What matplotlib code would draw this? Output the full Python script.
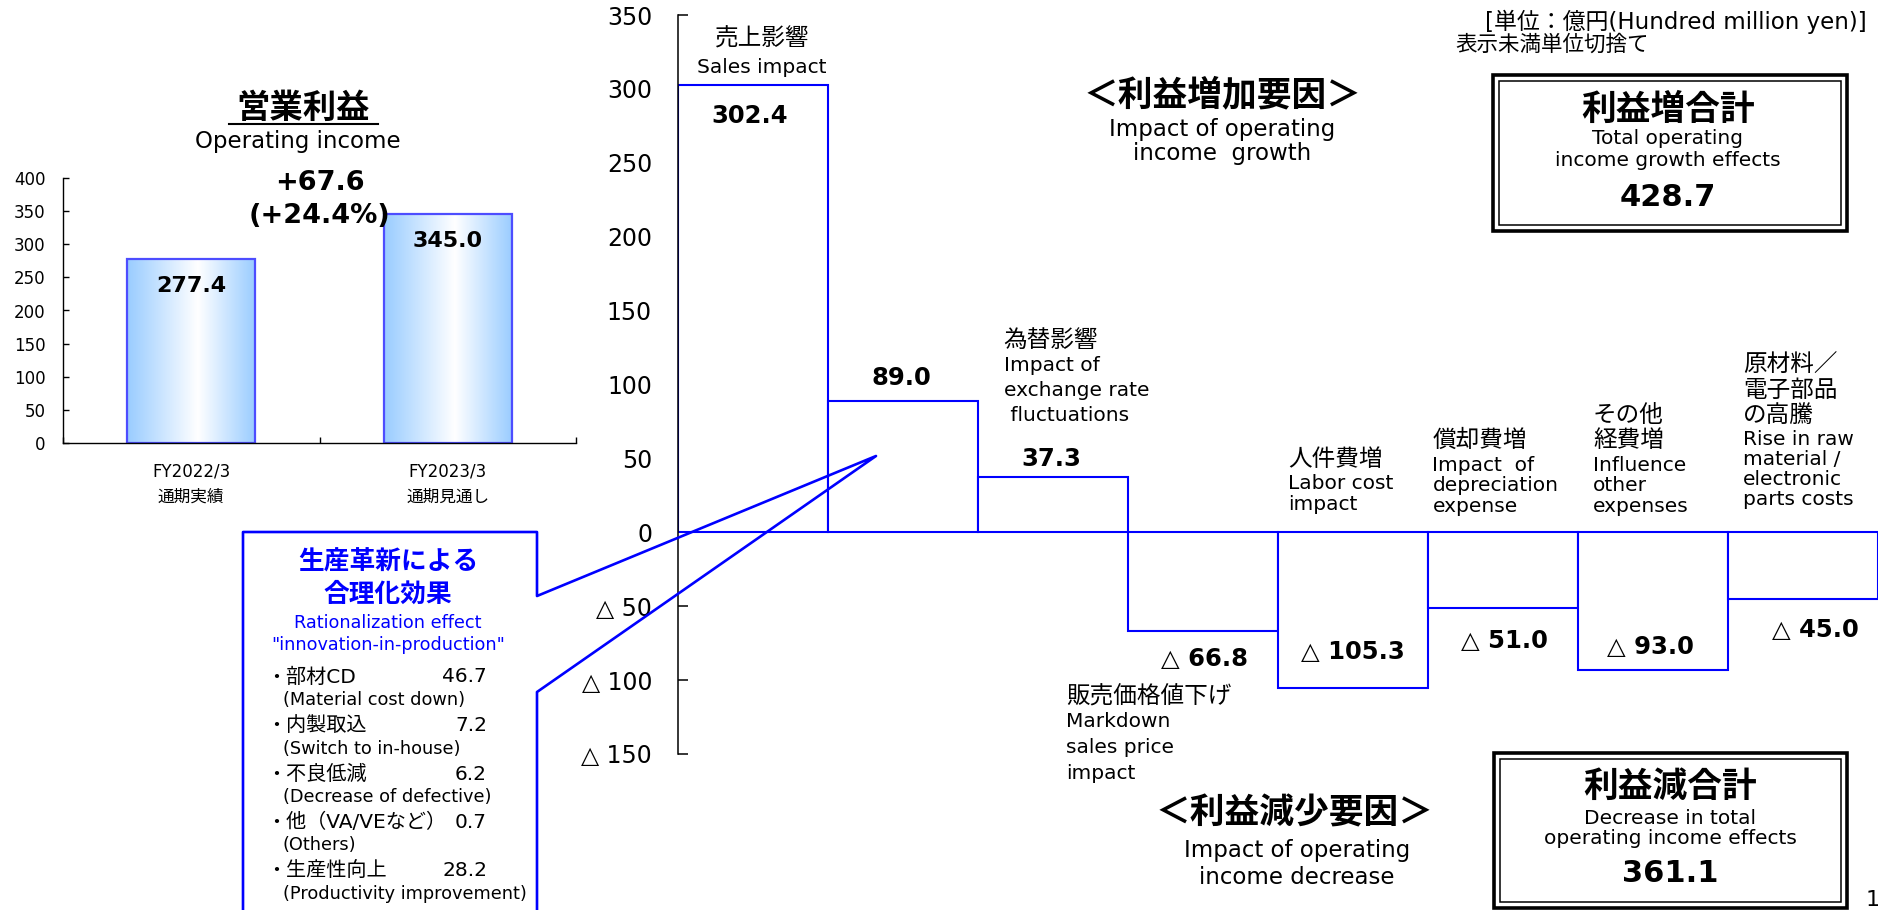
import matplotlib
matplotlib.use('Agg')
import matplotlib.pyplot as plt
import matplotlib.patches as mpatches
from matplotlib.lines import Line2D
from matplotlib.colors import LinearSegmentedColormap
import numpy as np

plt.rcParams['font.family'] = ['DejaVu Sans', 'Noto Sans CJK JP']

# ---- data ----
years = ['FY2022/3\n通期実績', 'FY2023/3\n通期見通し']
op_income = [277.4, 345.0]
growth_text = ['+67.6', '(+24.4%)']

impacts = [302.4, 89.0, 37.3, -66.8, -105.3, -51.0, -93.0, -45.0]
factor_jp = [['売上影響'], [], ['為替影響'], ['販売価格値下げ'], ['人件費増'],
             ['償却費増'], ['その他', '経費増'], ['原材料／', '電子部品', 'の高騰']]
factor_en = [['Sales impact'], [], ['Impact of', 'exchange rate', ' fluctuations'],
             ['Markdown', 'sales price', 'impact'], ['Labor cost', 'impact'],
             ['Impact  of', 'depreciation', 'expense'], ['Influence', 'other', 'expenses'],
             ['Rise in raw', 'material /', 'electronic', 'parts costs']]

ration_items = ['・部材CD', '・内製取込', '・不良低減', '・他（VA/VEなど）', '・生産性向上']
ration_en = ['(Material cost down)', '(Switch to in-house)', '(Decrease of defective)',
             '(Others)', '(Productivity improvement)']
ration_vals = [46.7, 7.2, 6.2, 0.7, 28.2]

W, H = 1878, 910
fig = plt.figure(figsize=(W / 100, H / 100), dpi=100)
fig.patch.set_facecolor('white')

def fx(px):
    return px / W

def fy(py):
    return 1 - py / H

def ftext(px, py, s, **kw):
    kw.setdefault('ha', 'center')
    kw.setdefault('va', 'center')
    return fig.text(fx(px), fy(py), s, **kw)

BLUE = '#0000FF'

# ---- left chart: operating income ----
ax1 = fig.add_axes([fx(63), fy(443.3), 513 / W, 265.6 / H])
xc = [0.5, 1.5]
fade = LinearSegmentedColormap.from_list('fade', [(0, '#99CCFF'), (0.55, '#FFFFFF'), (1, '#99CCFF')])
grad = np.linspace(0, 1, 256).reshape(1, -1)
for x, v in zip(xc, op_income):
    ax1.imshow(grad, extent=[x - 0.25, x + 0.25, 0, v], aspect='auto', cmap=fade, zorder=1)
    ax1.bar(x, v, width=0.5, facecolor='none', edgecolor='#4D4DFF', linewidth=1.6, zorder=2)
    ax1.text(x, v - 41, f'{v:.1f}', ha='center', va='center', fontsize=16, fontweight='bold', zorder=3)
ax1.set_xlim(0, 2)
ax1.set_ylim(0, 400)
ax1.set_yticks(np.arange(0, 401, 50))
ax1.set_xticks([0, 1, 2])
ax1.set_xticklabels([])
ax1.set_xticks(xc, years, minor=True)
ax1.tick_params(axis='x', which='major', direction='in', length=4, width=1)
ax1.tick_params(axis='x', which='minor', length=0, pad=14, labelsize=12)
ax1.tick_params(axis='y', direction='in', length=4, width=1, pad=12.5, labelsize=12)
for sp in ['top', 'right']:
    ax1.spines[sp].set_visible(False)
for sp in ['left', 'bottom']:
    ax1.spines[sp].set_linewidth(1.0)
for lab in ax1.get_xticklabels(minor=True):
    lab.set_linespacing(1.5)
ax1.text(1.0, 392, growth_text[0], ha='center', va='center', fontsize=19.5, fontweight='bold', clip_on=False)
ax1.text(1.0, 342, growth_text[1], ha='center', va='center', fontsize=19.5, fontweight='bold', clip_on=False)

ftext(303, 108, '営業利益', fontsize=24, fontweight='bold')
fig.add_artist(Line2D([fx(228.6), fx(377.5)], [fy(124), fy(124)], color='black', lw=1.5))
ftext(298, 141.7, 'Operating income', fontsize=16.5)

# ---- waterfall of factors ----
ax2 = fig.add_axes([fx(678), fy(754), 1200 / W, 739 / H])
xs = np.arange(len(impacts))
ax2.bar(xs, impacts, width=1, align='edge', facecolor='white', edgecolor=BLUE, linewidth=1.5, zorder=2)
ax2.set_xlim(0, len(impacts))
ax2.set_ylim(-150, 350)
yt = np.arange(-150, 351, 50)
ax2.set_yticks(yt, [f'△ {abs(v)}' if v < 0 else str(v) for v in yt])
ax2.tick_params(axis='y', direction='in', length=7, width=1.1, pad=18.7, labelsize=17)
ax2.set_xticks([])
for sp in ['top', 'right', 'bottom']:
    ax2.spines[sp].set_visible(False)
ax2.spines['left'].set_linewidth(1.1)
ax2.spines['left'].set_zorder(3)
ax2.patch.set_alpha(0)

# value labels
val_dy = [-20.4, 15.6, 12.3, -18.6, 24.5, -22.6, 15.6, -21.1]
val_dx = [-0.02, -0.01, -0.01, 0.01, 0.0, 0.01, -0.02, 0.08]
for i, v in enumerate(impacts):
    s = f'{v:.1f}' if v > 0 else f'△ {abs(v):.1f}'
    ax2.text(i + 0.5 + val_dx[i], v + val_dy[i], s, ha='center', va='center',
             fontsize=17.5, fontweight='bold', zorder=4)

# factor labels: (x, y of first line, ha, english line step px)
PT = 72 / 100
lab_pos = [(0.56, 334.3, 'center', 20.5), None, (2.17, 130.1, 'left', 25),
           (2.59, -111.2, 'left', 26), (4.07, 49.6, 'left', 20.5),
           (5.03, 62.4, 'left', 20.5), (6.1, 79.3, 'left', 20.5),
           (7.1, 113.2, 'left', 20)]
for i in range(len(impacts)):
    if lab_pos[i] is None:
        continue
    x, y, ha, en_step = lab_pos[i]
    off = 0
    for line in factor_jp[i]:
        ax2.annotate(line, xy=(x, y), xytext=(0, -off * PT), textcoords='offset points',
                     ha=ha, va='center', fontsize=17, annotation_clip=False)
        off += 25
    if i == 0:
        off += 4
    for line in factor_en[i]:
        ax2.annotate(line, xy=(x, y), xytext=(0, -off * PT), textcoords='offset points',
                     ha=ha, va='center', fontsize=14.5, annotation_clip=False)
        off += en_step

# ---- headings ----
ftext(1222, 95, '＜利益増加要因＞', fontsize=25, fontweight='bold')
ftext(1222, 130, 'Impact of operating', fontsize=16.5)
ftext(1222, 153, 'income  growth', fontsize=16.5)
ftext(1294, 813, '＜利益減少要因＞', fontsize=25, fontweight='bold')
ftext(1297, 850, 'Impact of operating', fontsize=16.5)
ftext(1297, 877, 'income decrease', fontsize=16.5)

ftext(1867, 22, '[単位：億円(Hundred million yen)]', ha='right', fontsize=16.5)
ftext(1455, 44, '表示未満単位切捨て', ha='left', fontsize=15.5)

# ---- total boxes ----
total_up = sum(v for v in impacts if v > 0)
total_down = -sum(v for v in impacts if v < 0)

def double_box(x0, y0, x1, y1):
    fig.add_artist(mpatches.Rectangle((fx(x0), fy(y1)), (x1 - x0) / W, (y1 - y0) / H,
                                      transform=fig.transFigure, fill=False, ec='black', lw=2.6))
    g = 6
    fig.add_artist(mpatches.Rectangle((fx(x0 + g), fy(y1 - g)), (x1 - x0 - 2 * g) / W, (y1 - y0 - 2 * g) / H,
                                      transform=fig.transFigure, fill=False, ec='black', lw=1.1))

double_box(1493, 75, 1847, 231)
ftext(1668, 110, '利益増合計', fontsize=25, fontweight='bold')
ftext(1668, 138, 'Total operating', fontsize=14.5)
ftext(1668, 160, 'income growth effects', fontsize=14.5)
ftext(1668, 197, f'{total_up:.1f}', fontsize=22, fontweight='bold')

double_box(1494, 753, 1847, 908)
ftext(1670, 787, '利益減合計', fontsize=25, fontweight='bold')
ftext(1670, 818, 'Decrease in total', fontsize=14.5)
ftext(1670, 838, 'operating income effects', fontsize=14.5)
ftext(1670, 873, f'{total_down:.1f}', fontsize=22, fontweight='bold')

# ---- callout: rationalization effect ----
cx = [243, 243, 537, 537, 876, 537, 537]
cy = [915, 532, 532, 596, 456, 692, 915]
fig.add_artist(Line2D([fx(v) for v in cx], [fy(v) for v in cy], color=BLUE, lw=1.9))

ftext(388, 563, '生産革新による', fontsize=18.5, fontweight='bold', color=BLUE)
ftext(388, 595, '合理化効果', fontsize=18.5, fontweight='bold', color=BLUE)
ftext(388, 623, 'Rationalization effect', fontsize=12.7, color=BLUE)
ftext(388, 645, '"innovation-in-production"', fontsize=12.7, color=BLUE)
for k, (item, en, val) in enumerate(zip(ration_items, ration_en, ration_vals)):
    y = 677 + k * 48.5
    ftext(266, y, item, ha='left', fontsize=14.5)
    ftext(487, y, f'{val:.1f}', ha='right', fontsize=14.5)
    ftext(283, y + 23, en, ha='left', fontsize=12.8)

ftext(1866, 900, '1', ha='left', fontsize=16)

fig.savefig('out.png', dpi=100, facecolor='white')
